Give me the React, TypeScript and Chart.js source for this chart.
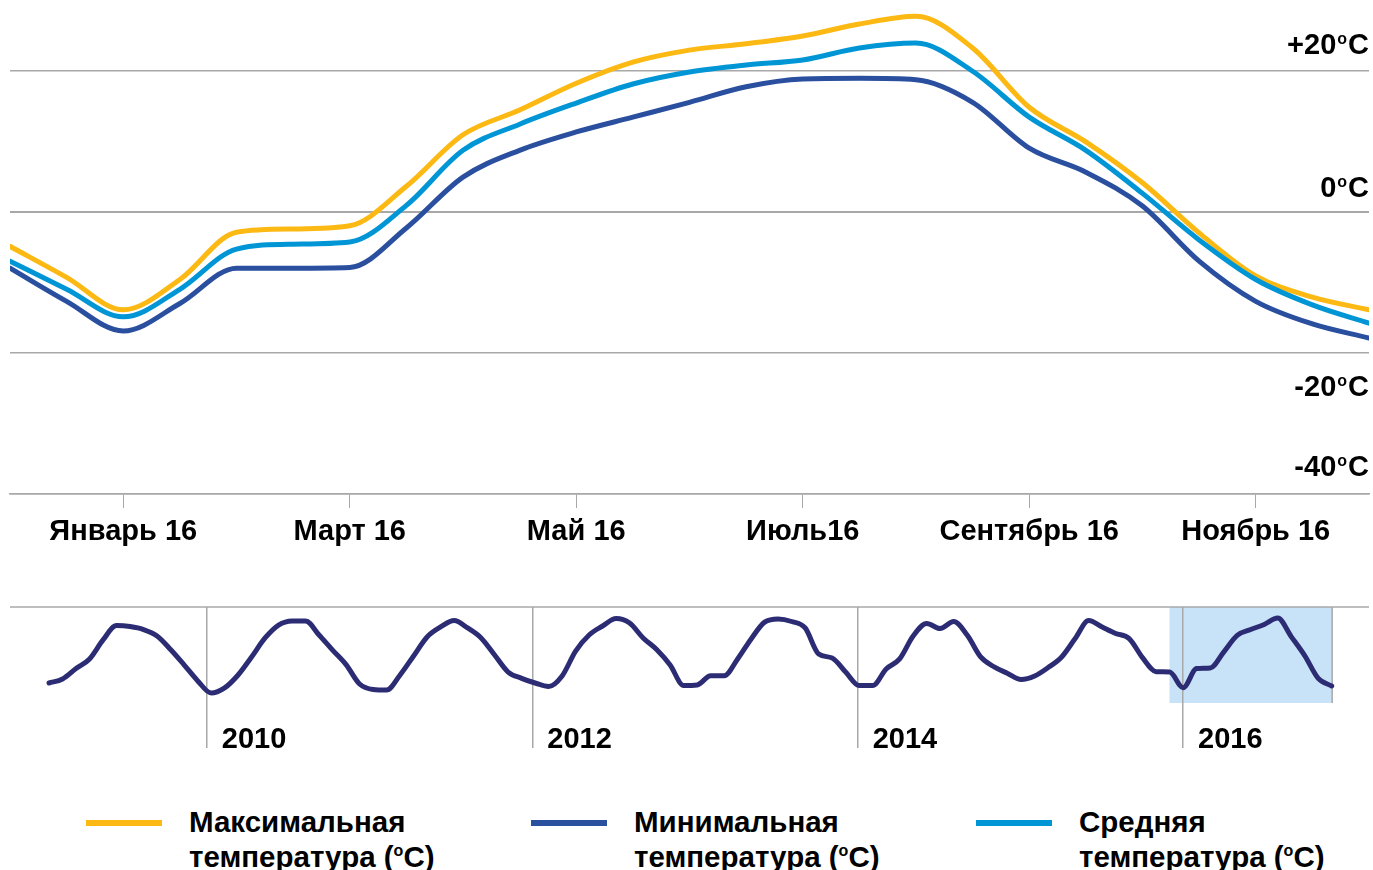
import React, { useEffect, useRef } from "react";
import { Chart, registerables } from "chart.js";

Chart.register(...registerables);

const FONT = '"Liberation Sans", Arial, Helvetica, sans-serif';

// ---- Main chart data (x in months relative to January 2016) ----
const mainYear = 2016;
const monthPos = [-1, -0.5, 0, 0.5, 1, 1.5, 2, 2.5, 3, 3.5, 4, 4.5, 5, 5.5, 6, 6.5, 7, 7.5, 8, 8.5, 9, 9.5, 10, 10.5, 11];
const maxTemp = [-4.9, -9.3, -13.9, -9.6, -2.9, -2.45, -2.0, 3.6, 10.9, 14.4, 18.2, 21.2, 22.9, 23.8, 24.9, 26.6, 27.7, 23.2, 14.8, 9.9, 4.1, -3.0, -9.1, -12.1, -13.9];
const avgTemp = [-7.0, -11.0, -14.9, -11.0, -5.3, -4.6, -4.3, 0.9, 8.7, 12.4, 15.4, 18.1, 19.8, 20.8, 21.5, 23.2, 23.9, 19.9, 13.4, 8.7, 2.6, -4.0, -9.6, -13.2, -15.8];
const minTemp = [-8.0, -12.7, -16.9, -13.0, -8.0, -8.0, -7.9, -2.3, 4.9, 8.7, 11.3, 13.4, 15.5, 17.7, 18.8, 18.9, 18.7, 15.5, 9.0, 5.6, 0.8, -7.0, -12.7, -15.9, -17.9];

const monthTickPos = [0, 2, 4, 6, 8, 10];
const monthTickLabels = ["Январь 16", "Март 16", "Май 16", "Июль16", "Сентябрь 16", "Ноябрь 16"];
const tempTicks = [-40, -20, 0, 20];
const tempTickLabels = ["-40", "-20", "0", "+20"];

// ---- Navigator data (monthly minimum temperature, from January 2009) ----
const navYearStart = 2009.03;
const navMinTemp = [
  -14.8, -12.75, -7.4, -2.5, 7.2, 14.5, 14.0, 12.5, 9.2, 2.3, -5.5, -13.6,
  -19.9, -17.3, -10.7, -1.5, 8.2, 14.8, 16.9, 16.9, 9.7, 2.0, -5.4, -15.3,
  -18.1, -18.4, -10.7, -1.0, 8.7, 13.8, 17.1, 13.3, 8.2, -0.5, -9.2, -12.4,
  -14.8, -16.6, -11.2, 1.5, 9.7, 14.3, 18.1, 15.8, 8.2, 2.3, -5.6, -16.1,
  -15.8, -11.1, -11.1, -2.5, 7.7, 16.3, 17.9, 16.6, 13.3, 0.0, -2.0, -9.2,
  -16.1, -16.1, -7.6, -2.5, 9.2, 15.6, 13.0, 16.6, 9.7, -1.5, -6.6, -9.9,
  -13.0, -11.2, -6.9, -1.5, 7.9, 17.1, 13.8, 10.5, 7.9, -2.0, -9.0, -9.2,
  -17.2, -7.4, -7.1, 1.0, 9.5, 12.5, 15.1, 18.4, 8.9, -0.8, -12.4, -16.3,
];
const navYearTicks = [2010, 2012, 2014, 2016];
const navYearLabels = ["2010", "2012", "2014", "2016"];

// ---- Legend ----
const legendNames = ["Максимальная", "Минимальная", "Средняя"];
const legendSecond = "температура (";

const COL_MAX = "#FDB913";
const COL_MIN = "#2A4F9F";
const COL_AVG = "#0096D6";
const COL_NAV = "#2C2C74";
const COL_GRID = "#A8A8A8";
const COL_HL = "#C8E2F7";
const legendColors = [COL_MAX, COL_MIN, COL_AVG];

function drawDegreeLabel(ctx: CanvasRenderingContext2D, text: string, xRight: number, baseline: number) {
  ctx.save();
  ctx.fillStyle = "#000";
  ctx.textAlign = "right";
  ctx.textBaseline = "alphabetic";
  ctx.font = `bold 29px ${FONT}`;
  const wC = ctx.measureText("C").width;
  ctx.fillText("C", xRight, baseline);
  ctx.font = `bold 16px ${FONT}`;
  const wO = ctx.measureText("o").width;
  ctx.fillText("o", xRight - wC - 1, baseline - 10);
  ctx.font = `bold 29px ${FONT}`;
  ctx.fillText(text, xRight - wC - wO - 2, baseline);
  ctx.restore();
}

const tempLabelPlugin = {
  id: "tempLabels",
  afterDraw(chart: any) {
    const { ctx, chartArea, scales } = chart;
    const y = scales.y;
    const baselineOffsets = [-18, 43, -15, -17];
    tempTicks.forEach((v, i) => {
      const py = y.getPixelForValue(v);
      drawDegreeLabel(ctx, tempTickLabels[i], chartArea.right, py + baselineOffsets[i]);
    });
  },
};

const navPlugin = {
  id: "navDecor",
  beforeDraw(chart: any) {
    const { ctx, chartArea, scales } = chart;
    const x = scales.x;
    const x0 = x.getPixelForValue(mainYear + monthPos[0] / 12);
    const x1 = x.getPixelForValue(mainYear + monthPos[monthPos.length - 1] / 12);
    ctx.save();
    ctx.fillStyle = COL_HL;
    ctx.fillRect(x0, chartArea.top, x1 - x0, chartArea.bottom - chartArea.top);
    ctx.strokeStyle = COL_GRID;
    ctx.lineWidth = 1.5;
    ctx.beginPath();
    ctx.moveTo(x1, chartArea.top);
    ctx.lineTo(x1, chartArea.bottom);
    ctx.stroke();
    ctx.beginPath();
    ctx.moveTo(chartArea.left, chartArea.top);
    ctx.lineTo(chartArea.right, chartArea.top);
    ctx.stroke();
    ctx.restore();
  },
  afterDraw(chart: any) {
    const { ctx, scales } = chart;
    const x = scales.x;
    ctx.save();
    ctx.fillStyle = "#000";
    ctx.font = `bold 29px ${FONT}`;
    ctx.textAlign = "left";
    ctx.textBaseline = "alphabetic";
    navYearTicks.forEach((v, i) => {
      ctx.fillText(navYearLabels[i], x.getPixelForValue(v) + 15, 158);
    });
    ctx.restore();
  },
};

export default function App() {
  const mainRef = useRef<HTMLCanvasElement>(null);
  const navRef = useRef<HTMLCanvasElement>(null);

  useEffect(() => {
    const toPts = (arr: number[]) => arr.map((v, i) => ({ x: monthPos[i], y: v }));
    const main = new Chart(mainRef.current!, {
      type: "line",
      data: {
        datasets: [
          { data: toPts(minTemp), borderColor: COL_MIN },
          { data: toPts(avgTemp), borderColor: COL_AVG },
          { data: toPts(maxTemp), borderColor: COL_MAX },
        ],
      },
      options: {
        animation: false,
        responsive: false,
        maintainAspectRatio: false,
        layout: { padding: { left: 10, right: 0, top: 0, bottom: 0 } },
        plugins: { legend: { display: false }, tooltip: { enabled: false } },
        elements: {
          point: { radius: 0 },
          line: { borderWidth: 5, cubicInterpolationMode: "monotone", borderCapStyle: "round", borderJoinStyle: "round" },
        },
        scales: {
          x: {
            type: "linear",
            min: monthPos[0],
            max: monthPos[monthPos.length - 1],
            afterBuildTicks: (s: any) => {
              s.ticks = monthTickPos.map((v) => ({ value: v }));
            },
            afterFit: (s: any) => {
              s.height = 66;
            },
            grid: { drawOnChartArea: false, drawTicks: true, tickLength: 14, color: COL_GRID, lineWidth: 1 },
            border: { display: true, color: COL_GRID, width: 1.5 },
            ticks: {
              autoSkip: false,
              maxRotation: 0,
              padding: 7,
              color: "#000",
              font: { family: FONT, size: 29, weight: "bold" },
              callback: (v: any) => {
                const i = monthTickPos.indexOf(Number(v));
                return i >= 0 ? monthTickLabels[i] : "";
              },
            },
          },
          y: {
            type: "linear",
            position: "right",
            min: -40,
            max: 30,
            afterBuildTicks: (s: any) => {
              s.ticks = tempTicks.map((v) => ({ value: v }));
            },
            afterFit: (s: any) => {
              s.width = 4;
            },
            grid: {
              color: COL_GRID,
              lineWidth: (c: any) => (c.tick && c.tick.value === 0 ? 2 : 1.5),
              drawTicks: false,
            },
            border: { display: false },
            ticks: { display: false },
          },
        },
      } as any,
      plugins: [tempLabelPlugin],
    });

    const nav = new Chart(navRef.current!, {
      type: "line",
      data: {
        datasets: [
          {
            data: navMinTemp.map((v, i) => ({ x: navYearStart + i / 12.05, y: v })),
            borderColor: COL_NAV,
          },
        ],
      },
      options: {
        animation: false,
        responsive: false,
        maintainAspectRatio: false,
        layout: { padding: { left: 10, right: 4, top: 17, bottom: 0 } },
        plugins: { legend: { display: false }, tooltip: { enabled: false } },
        elements: {
          point: { radius: 0 },
          line: { borderWidth: 5, cubicInterpolationMode: "monotone", borderCapStyle: "round", borderJoinStyle: "round" },
        },
        scales: {
          x: {
            type: "linear",
            min: 2008.79,
            max: 2017.143,
            afterBuildTicks: (s: any) => {
              s.ticks = navYearTicks.map((v) => ({ value: v }));
            },
            afterFit: (s: any) => {
              s.height = 57;
            },
            grid: { drawOnChartArea: true, drawTicks: true, tickLength: 45, color: COL_GRID, lineWidth: 1.5 },
            border: { display: false },
            ticks: { display: false },
          },
          y: { display: false, min: -25, max: 24 },
        },
      } as any,
      plugins: [navPlugin],
    });

    return () => {
      main.destroy();
      nav.destroy();
    };
  }, []);

  const legendX = [86, 531, 976];

  return (
    <div
      style={{
        position: "fixed",
        left: 0,
        top: 0,
        width: 1373,
        height: 870,
        overflow: "hidden",
        background: "#fff",
        fontFamily: FONT,
      }}
    >
      <canvas ref={mainRef} width={1373} height={560} style={{ position: "absolute", left: 0, top: 0 }} />
      <canvas ref={navRef} width={1373} height={170} style={{ position: "absolute", left: 0, top: 590 }} />
      {legendNames.map((name, i) => (
        <div key={name}>
          <div
            style={{
              position: "absolute",
              left: legendX[i],
              top: 820,
              width: 76,
              height: 6,
              background: legendColors[i],
            }}
          />
          <div
            style={{
              position: "absolute",
              left: legendX[i] + 103,
              top: 804,
              fontSize: 29.5,
              fontWeight: "bold",
              lineHeight: "35px",
              color: "#000",
              whiteSpace: "nowrap",
            }}
          >
            <div>{name}</div>
            <div>
              {legendSecond}
              <span style={{ fontSize: 16, position: "relative", top: -11 }}>o</span>
              C)
            </div>
          </div>
        </div>
      ))}
    </div>
  );
}
